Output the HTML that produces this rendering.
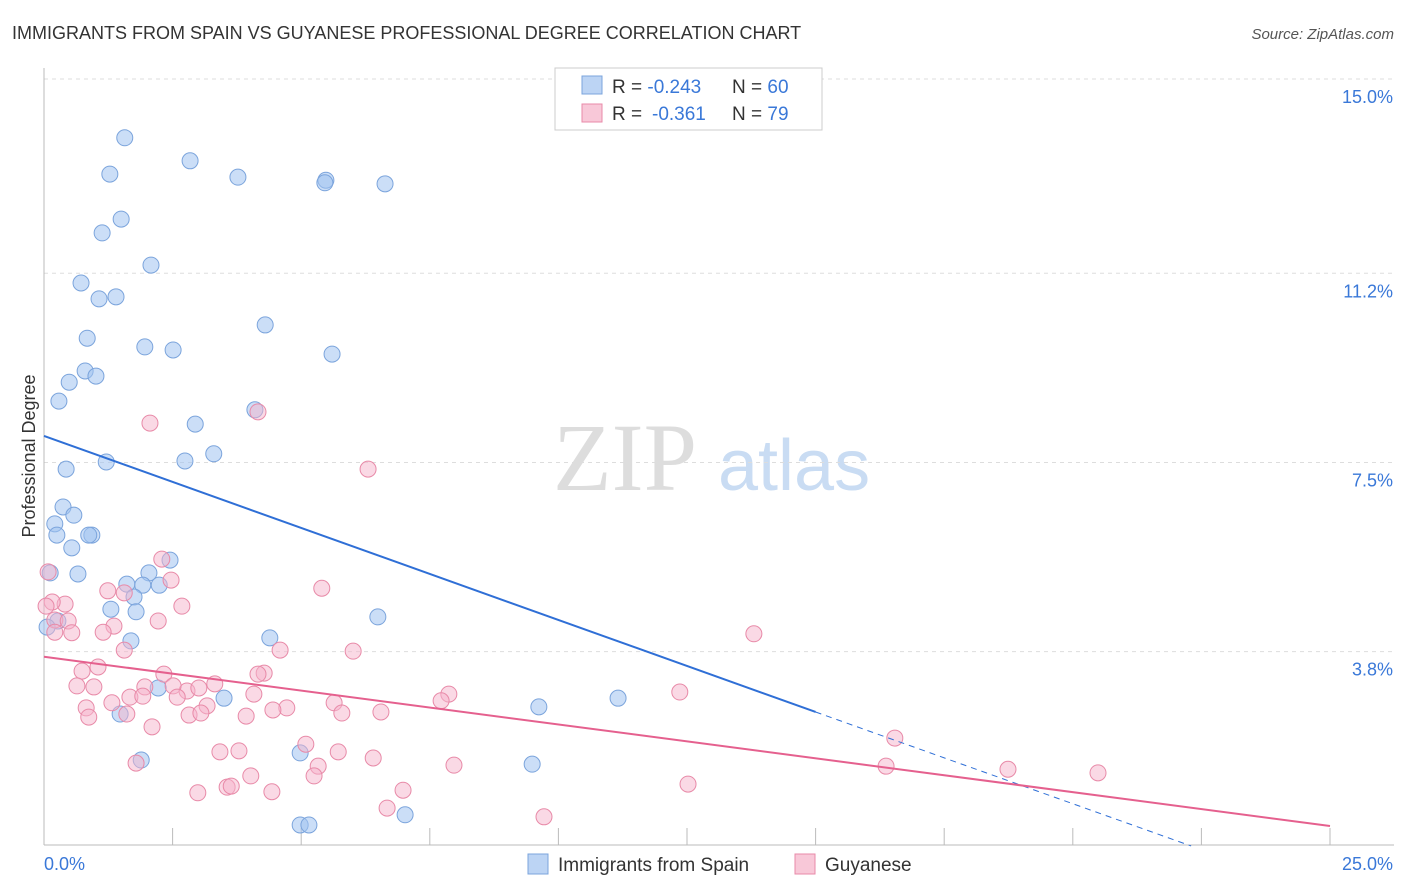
<!DOCTYPE html>
<html><head><meta charset="utf-8"><style>
body{margin:0;background:#fff;font-family:"Liberation Sans",sans-serif;}
#wrap{position:relative;width:1406px;height:892px;overflow:hidden;}
</style></head><body>
<div id="wrap">
<svg id="chart" width="1406" height="892">
<text x="12" y="39" font-size="18" fill="#333">IMMIGRANTS FROM SPAIN VS GUYANESE PROFESSIONAL DEGREE CORRELATION CHART</text>
<text x="1394" y="39" font-size="15" fill="#555" font-style="italic" text-anchor="end">Source: ZipAtlas.com</text>
<text x="35" y="456" font-size="18" fill="#333" text-anchor="middle" transform="rotate(-90 35 456)">Professional Degree</text>
<g><text x="553" y="490" font-size="96" fill="#ddd" font-family="Liberation Serif,serif">ZIP</text><text x="718" y="490" font-size="72" fill="#c9dcf3">atlas</text></g>
<g id="grid"></g><g id="pts"></g><g id="trend"></g>
<g>
<rect x="555" y="68" width="267" height="62" fill="#fff" stroke="#ccc"/>
<rect x="582" y="76" width="20" height="18" fill="#bcd4f4" stroke="#7ba4dc"/>
<rect x="582" y="104" width="20" height="18" fill="#f8c8d8" stroke="#e88aa8"/>
<text x="612" y="93" font-size="19" fill="#333">R = <tspan fill="#3a78d8">-0.243</tspan><tspan x="732">N = </tspan><tspan fill="#3a78d8">60</tspan></text>
<text x="612" y="120" font-size="19" fill="#333">R = <tspan fill="#3a78d8" x="652">-0.361</tspan><tspan x="732">N = </tspan><tspan fill="#3a78d8">79</tspan></text>
</g>
<g>
<rect x="528" y="854" width="20" height="20" fill="#bcd4f4" stroke="#7ba4dc"/>
<text x="558" y="871" font-size="19" fill="#333">Immigrants from Spain</text>
<rect x="795" y="854" width="20" height="20" fill="#f8c8d8" stroke="#e88aa8"/>
<text x="825" y="871" font-size="19" fill="#333">Guyanese</text>
</g>
</svg></div>
<script>
const yTicks=[15.0,11.2,7.5,3.8];
const yTickLabels=["15.0%","11.2%","7.5%","3.8%"];
const xTickLabels=["0.0%","25.0%"];
const spainX=[1.57,2.84,1.28,3.77,5.48,5.46,6.63,1.50,1.13,2.08,0.72,1.07,1.40,4.30,0.84,1.96,2.51,5.60,0.80,1.01,0.49,0.29,4.10,2.94,1.21,2.74,3.30,0.43,0.37,0.58,0.21,0.25,0.93,0.87,0.54,2.45,0.66,0.12,2.04,1.61,1.92,2.24,1.75,1.30,1.79,6.49,4.39,1.69,0.27,0.06,2.22,3.50,9.62,11.16,1.48,1.89,4.98,9.49,4.98,5.15,7.02];
const spainY=[13.85,13.40,13.14,13.08,13.02,12.97,12.95,12.26,11.99,11.36,11.01,10.70,10.74,10.19,9.93,9.76,9.70,9.62,9.29,9.19,9.07,8.70,8.53,8.25,7.51,7.53,7.67,7.37,6.63,6.47,6.30,6.08,6.08,6.08,5.83,5.59,5.32,5.34,5.34,5.12,5.10,5.10,4.87,4.63,4.58,4.48,4.07,4.01,4.40,4.28,3.09,2.89,2.72,2.89,2.58,1.68,1.82,1.60,0.41,0.41,0.61];
const guyX=[2.06,4.16,6.30,2.29,2.47,0.08,5.40,1.24,1.56,2.68,0.41,0.16,0.21,0.47,2.22,1.36,1.15,0.54,13.80,0.21,4.59,6.01,1.56,1.05,0.74,2.33,4.28,4.16,0.64,0.97,1.96,2.78,3.32,2.51,3.01,2.59,1.67,1.92,4.08,12.36,7.87,7.72,5.64,3.17,1.32,0.82,0.87,2.82,1.61,3.05,4.72,4.45,5.79,6.55,3.93,2.10,16.54,5.09,3.42,3.79,5.72,6.40,1.79,5.33,7.97,16.37,18.74,20.49,4.02,5.25,12.52,2.99,3.56,3.64,4.43,6.98,6.67,9.72,0.04];
const guyY=[8.27,8.49,7.37,5.61,5.20,5.36,5.04,4.99,4.95,4.69,4.73,4.77,4.42,4.40,4.40,4.30,4.18,4.17,4.15,4.18,3.83,3.81,3.83,3.50,3.42,3.36,3.38,3.36,3.13,3.11,3.11,3.03,3.17,3.13,3.09,2.91,2.91,2.93,2.97,3.01,2.97,2.84,2.80,2.74,2.80,2.70,2.52,2.56,2.58,2.60,2.70,2.66,2.60,2.62,2.54,2.33,2.11,1.99,1.84,1.86,1.84,1.72,1.62,1.56,1.58,1.56,1.50,1.43,1.37,1.37,1.21,1.04,1.15,1.17,1.06,1.09,0.74,0.57,4.69];
const spainTrend=[[0,8.02],[15,2.62]];
const spainTrendDash=[[15,2.62],[22.3,0]];
const guyTrend=[[0,3.70],[25,0.39]];
const NS="http://www.w3.org/2000/svg";
const X=v=>44+v*51.44, Y=v=>79+(15-v)*51.13;
function mk(tag,attrs,parent){const e=document.createElementNS(NS,tag);for(const k in attrs)e.setAttribute(k,attrs[k]);parent.appendChild(e);return e;}
const grid=document.getElementById('grid');
yTicks.forEach((t,i)=>{
 const l=mk('line',{x1:44,x2:1394,y1:Y(t),y2:Y(t),stroke:'#ddd','stroke-dasharray':'4,4'},grid);
 
 
 const tx=mk('text',{x:1393,y:Y(t)+24,'font-size':18,fill:'#3a78d8','text-anchor':'end'},grid);
 tx.textContent=yTickLabels[i];
 
 
});
const ax=mk('line',{x1:44,x2:1394,y1:845,y2:845,stroke:'#bbb'},grid);


const ay=mk('line',{x1:44,x2:44,y1:68,y2:845,stroke:'#bbb'},grid);


for(let i=0;i<=10;i++){const v=i*2.5;const t=mk('line',{x1:X(v),x2:X(v),y1:828,y2:845,stroke:'#bbb'},grid);
 
 }
[[0,44,'start'],[25,1393,'end']].forEach((d,i)=>{const t=mk('text',{x:d[1],y:870,'font-size':18,fill:'#3a78d8','text-anchor':d[2]},grid);t.textContent=xTickLabels[i];
 
 });
const pts=document.getElementById('pts');
spainX.forEach((v,i)=>{const c=mk('circle',{cx:X(v),cy:Y(spainY[i]),r:8,fill:'rgba(160,195,240,0.55)',stroke:'#7ba4dc','stroke-width':1},pts);
 
 });
guyX.forEach((v,i)=>{const c=mk('circle',{cx:X(v),cy:Y(guyY[i]),r:8,fill:'rgba(245,180,204,0.5)',stroke:'#e88aa8','stroke-width':1},pts);
 
 });
const tr=document.getElementById('trend');
const l1=mk('line',{x1:X(spainTrend[0][0]),y1:Y(spainTrend[0][1]),x2:X(spainTrend[1][0]),y2:Y(spainTrend[1][1]),stroke:'#2f6fd6','stroke-width':2},tr);


const l2=mk('line',{x1:X(spainTrendDash[0][0]),y1:Y(spainTrendDash[0][1]),x2:X(spainTrendDash[1][0]),y2:Y(spainTrendDash[1][1]),stroke:'#2f6fd6','stroke-width':1,'stroke-dasharray':'6,5'},tr);


const l3=mk('line',{x1:X(guyTrend[0][0]),y1:Y(guyTrend[0][1]),x2:X(guyTrend[1][0]),y2:Y(guyTrend[1][1]),stroke:'#e5608e','stroke-width':2},tr);


</script>
</body></html>
